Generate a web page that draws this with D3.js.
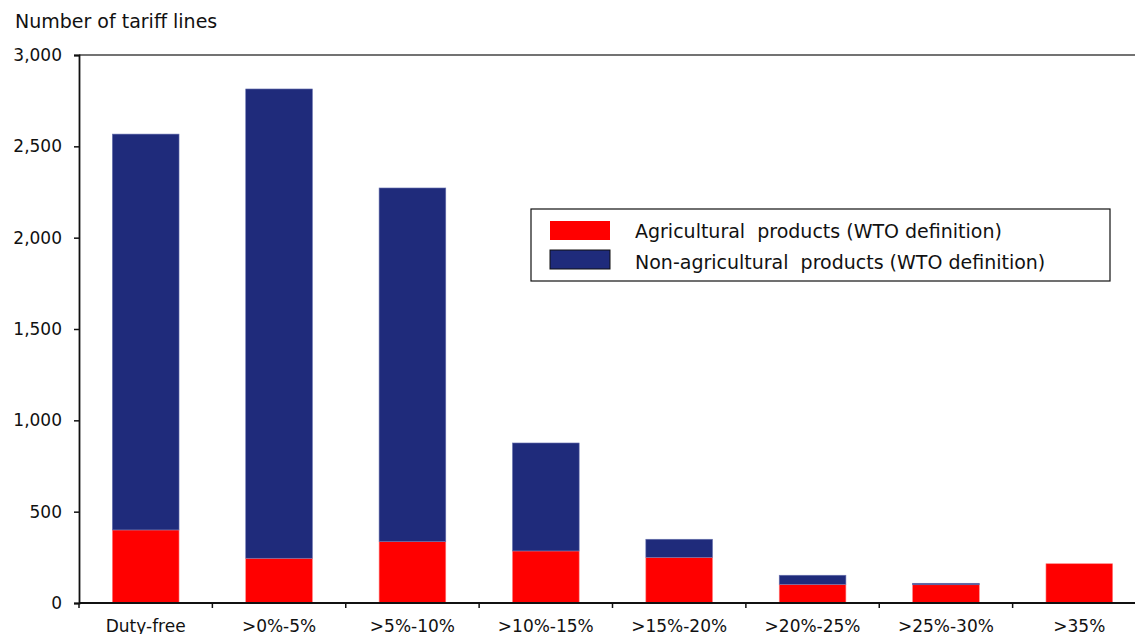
<!DOCTYPE html>
<html>
<head>
<meta charset="utf-8">
<script src="https://cdn.jsdelivr.net/npm/d3@7"></script>
<style>
  body { margin: 0; background: #fff; }
  svg text { font-family: "DejaVu Sans", Verdana, sans-serif; fill: #111; }
</style>
</head>
<body>
<svg id="chart" width="1135" height="634"></svg>
<script>
const categories = ['Duty-free', '>0%-5%', '>5%-10%', '>10%-15%', '>15%-20%', '>20%-25%', '>25%-30%', '>35%'];
const agri_values = [400, 245, 336, 285, 250, 102, 100, 215];
const nonagri_values = [2167, 2569, 1936, 591, 99, 50, 8, 0];
const y_ticks = [0, 500, 1000, 1500, 2000, 2500, 3000];
const series_names = ['Agricultural  products (WTO definition)', 'Non-agricultural  products (WTO definition)'];
const series_colors = ['#ff0000', '#1f2b7b'];

const svg = d3.select('#chart');
const plot_left = 79, plot_right = 1146, plot_top = 55, plot_bottom = 603;

let x = d3.scaleBand().domain(categories).range([plot_left, plot_right]).paddingInner(0.5).paddingOuter(0.25);
let y = d3.scaleLinear().domain([0, 3000]).range([plot_bottom, plot_top]);

// stacked data
let rows = categories.map((c, i) => ({cat: c, agri: agri_values[i], nonagri: nonagri_values[i]}));
let stack = d3.stack().keys(['agri', 'nonagri'])(rows);

stack.forEach((layer, li) => {
    svg.append('g').selectAll('rect')
        .data(layer.filter(d => d[1] > d[0]))
        .join('rect')
        .attr('x', d => x(d.data.cat))
        .attr('width', x.bandwidth())
        .attr('y', d => y(d[1]))
        .attr('height', d => y(d[0]) - y(d[1]))
        .attr('fill', series_colors[li])
        .attr('stroke', li === 0 ? '#ff8080' : '#6a73b0')
        .attr('stroke-width', 0.6);
});

// top border of plot
svg.append('line')
    .attr('x1', plot_left).attr('x2', plot_right)
    .attr('y1', plot_top).attr('y2', plot_top)
    .attr('stroke', '#444').attr('stroke-width', 1.5);

// y axis
let yAxis = svg.append('g')
    .attr('transform', 'translate(' + plot_left + ',0)')
    .call(d3.axisLeft(y).tickValues(y_ticks).tickSize(5).tickPadding(12).tickFormat(d3.format(',')));
yAxis.select('.domain').attr('stroke', '#111').attr('stroke-width', 1.8);
yAxis.selectAll('.tick line').attr('stroke', '#111').attr('stroke-width', 1.5);
yAxis.selectAll('.tick text').style('font-size', '17px').attr('fill', '#111');

// x axis, ticks at band boundaries
let xAxisG = svg.append('g').attr('transform', 'translate(0,' + plot_bottom + ')');
xAxisG.append('line')
    .attr('x1', plot_left).attr('x2', plot_right)
    .attr('stroke', '#111').attr('stroke-width', 1.8);
let boundaries = categories.map((c, i) => plot_left + i * (plot_right - plot_left) / categories.length);
xAxisG.selectAll('line.tk')
    .data(boundaries)
    .join('line')
    .attr('class', 'tk')
    .attr('x1', d => d).attr('x2', d => d)
    .attr('y1', 0).attr('y2', 5)
    .attr('stroke', '#111').attr('stroke-width', 1.5);
xAxisG.selectAll('text')
    .data(categories)
    .join('text')
    .attr('x', d => x(d) + x.bandwidth() / 2)
    .attr('y', 29)
    .attr('text-anchor', 'middle')
    .style('font-size', '17px')
    .text(d => d);

// y title
svg.append('text')
    .attr('x', 15).attr('y', 28)
    .style('font-size', '19px')
    .text('Number of tariff lines');

// legend
let legend = svg.append('g');
legend.append('rect')
    .attr('x', 531).attr('y', 209)
    .attr('width', 579).attr('height', 72)
    .attr('fill', '#fff').attr('stroke', '#111').attr('stroke-width', 1.2);
series_names.forEach((name, i) => {
    legend.append('rect')
        .attr('x', 550).attr('y', 221 + i * 29)
        .attr('width', 60).attr('height', 19)
        .attr('fill', series_colors[i])
        .attr('stroke', i === 1 ? '#111' : 'none');
    legend.append('text')
        .attr('x', 635).attr('y', 238 + i * 31)
        .style('font-size', '19px')
        .style('white-space', 'pre')
        .attr('xml:space', 'preserve')
        .text(name);
});
</script>
</body>
</html>
